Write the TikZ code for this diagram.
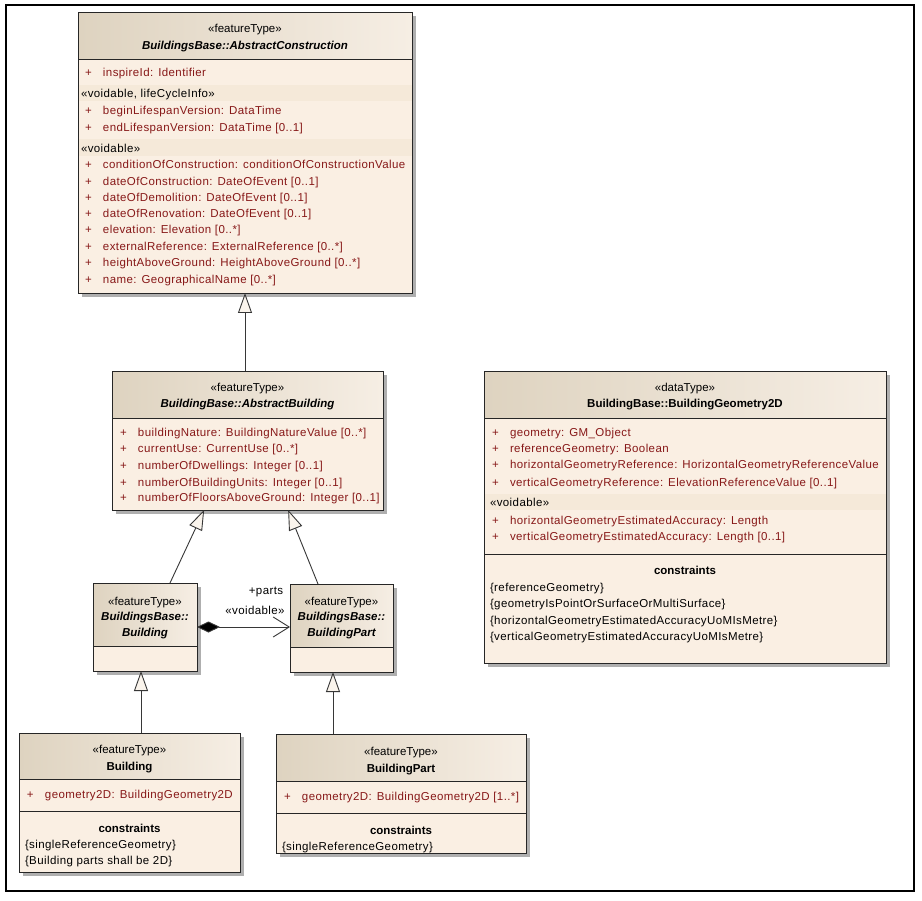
\documentclass[tikz,border=0pt]{standalone}
\usepackage{fontspec}
\setmainfont{Liberation Sans}
\newfontfamily\trackfont[LetterSpace=3.5]{Liberation Sans}
\usetikzlibrary{arrows.meta,shadows,calc}
\definecolor{attrc}{RGB}{135,24,24}
\definecolor{bodyc}{RGB}{250,239,227}
\definecolor{hdrA}{RGB}{222,211,192}
\definecolor{hdrB}{RGB}{246,238,228}
\definecolor{bandc}{RGB}{245,233,217}
\definecolor{shadc}{RGB}{175,175,175}
\definecolor{linec}{RGB}{55,55,55}
\definecolor{trifill}{RGB}{250,244,236}
\newcommand{\attsep}{:\hspace{5pt}}
\newcommand{\umlclass}[6]{%
  \node[classbox, minimum width=#4pt-#2pt, minimum height=#5pt-#3pt] (#1) at (#2,#3) {};
  \shade[left color=hdrA, right color=hdrB] (#2+0.4,#3+0.4) rectangle (#4-0.4,#6);
  \draw[boxline] (#2,#3) rectangle (#4,#5);
  \draw[boxline] (#2,#6) -- (#4,#6);
}
\newcommand{\attr}[4]{\node[attrtext] (#1) at (#2,#3+1) {\makebox[18pt][l]{+}#4};}
\tikzset{
  every node/.style={font=\fontsize{11.5}{13}\selectfont, inner sep=0pt, outer sep=0pt},
  classbox/.style={fill=bodyc, anchor=north west,
    drop shadow={shadow xshift=4pt, shadow yshift=-4pt, fill=shadc, opacity=1}},
  boxline/.style={draw=black!85, line width=0.9pt},
  stereo/.style={anchor=base},
  absname/.style={anchor=base, font=\fontsize{11.5}{13}\selectfont\bfseries\itshape},
  conname/.style={anchor=base, font=\fontsize{11.5}{13}\selectfont\bfseries},
  attrtext/.style={anchor=base west, text=attrc, font=\fontsize{11.5}{13}\trackfont},
  bandtext/.style={anchor=base west, font=\fontsize{11.5}{13}\trackfont},
  plain/.style={anchor=base west, font=\fontsize{11.5}{13}\trackfont},
  lbl/.style={font=\fontsize{11.5}{13}\trackfont},
  gen/.style={draw=linec, line width=0.9pt, -{Triangle[length=20pt, width=14pt, fill=trifill]}},
  comp/.style={draw=linec, line width=0.9pt, {Diamond[length=23pt, width=11pt, fill=black]}-{Straight Barb[length=16pt, width=20pt, line width=0.9pt]}},
}
\begin{document}
\begin{tikzpicture}[x=1pt, y=-1pt]
\useasboundingbox (0,0) rectangle (922,901);
\fill[white] (0,0) rectangle (922,901);
\draw[black, line width=1.3pt] (6,5) rectangle (914,891);

% ---------- AbstractConstruction
\umlclass{ac}{78}{12}{412}{293}{59}
\fill[bandc] (78.5,85) rectangle (411.5,101);
\fill[bandc] (78.5,139) rectangle (411.5,156);
\node[stereo] (ac-st) at (245,33) {«featureType»};
\node[absname] (ac-nm) at (245,50) {BuildingsBase::AbstractConstruction};
\attr{ac-a1}{85}{76}{inspireId\attsep Identifier}
\node[bandtext] (ac-b1) at (81,98) {«voidable, lifeCycleInfo»};
\attr{ac-a2}{85}{114}{beginLifespanVersion\attsep DataTime}
\attr{ac-a3}{85}{131}{endLifespanVersion\attsep DataTime [0..1]}
\node[bandtext] (ac-b2) at (81,153) {«voidable»};
\attr{ac-a4}{85}{168}{conditionOfConstruction\attsep conditionOfConstructionValue}
\attr{ac-a5}{85}{185}{dateOfConstruction\attsep DateOfEvent [0..1]}
\attr{ac-a6}{85}{201}{dateOfDemolition\attsep DateOfEvent [0..1]}
\attr{ac-a7}{85}{217}{dateOfRenovation\attsep DateOfEvent [0..1]}
\attr{ac-a8}{85}{233}{elevation\attsep Elevation [0..*]}
\attr{ac-a9}{85}{250}{externalReference\attsep ExternalReference [0..*]}
\attr{ac-a10}{85}{266}{heightAboveGround\attsep HeightAboveGround [0..*]}
\attr{ac-a11}{85}{283}{name\attsep GeographicalName [0..*]}

% ---------- AbstractBuilding
\umlclass{ab}{112}{371}{383}{510}{418}
\node[stereo] (ab-st) at (247.5,392) {«featureType»};
\node[absname] (ab-nm) at (247.5,408) {BuildingBase::AbstractBuilding};
\attr{ab-a1}{120}{436}{buildingNature\attsep BuildingNatureValue [0..*]}
\attr{ab-a2}{120}{452}{currentUse\attsep CurrentUse [0..*]}
\attr{ab-a3}{120}{469}{numberOfDwellings\attsep Integer [0..1]}
\attr{ab-a4}{120}{485}{numberOfBuildingUnits\attsep Integer [0..1]}
\attr{ab-a5}{120}{501}{numberOfFloorsAboveGround\attsep Integer [0..1]}

% ---------- BuildingGeometry2D
\umlclass{bg}{484}{371}{886}{663}{418}
\fill[bandc] (484.5,494) rectangle (885.5,510);
\draw[boxline] (484,554) -- (886,554);
\node[stereo] (bg-st) at (685,392) {«dataType»};
\node[conname] (bg-nm) at (685,408) {BuildingBase::BuildingGeometry2D};
\attr{bg-a1}{492}{436}{geometry\attsep GM\_Object}
\attr{bg-a2}{492}{452}{referenceGeometry\attsep Boolean}
\attr{bg-a3}{492}{468}{horizontalGeometryReference\attsep HorizontalGeometryReferenceValue}
\attr{bg-a4}{492}{485}{verticalGeometryReference\attsep ElevationReferenceValue [0..1]}
\node[bandtext] (bg-b1) at (490,507) {«voidable»};
\attr{bg-a5}{492}{523}{horizontalGeometryEstimatedAccuracy\attsep Length}
\attr{bg-a6}{492}{539}{verticalGeometryEstimatedAccuracy\attsep Length [0..1]}
\node[conname] (bg-ct) at (685,574) {constraints};
\node[plain] (bg-c1) at (490,591) {\{referenceGeometry\}};
\node[plain] (bg-c2) at (490,607) {\{geometryIsPointOrSurfaceOrMultiSurface\}};
\node[plain] (bg-c3) at (490,624) {\{horizontalGeometryEstimatedAccuracyUoMIsMetre\}};
\node[plain] (bg-c4) at (490,640) {\{verticalGeometryEstimatedAccuracyUoMIsMetre\}};

% ---------- BuildingsBase::Building (abstract)
\umlclass{bb}{93}{583}{197}{671}{646}
\node[stereo] (bb-st) at (145,605) {«featureType»};
\node[absname] (bb-n1) at (145,620) {BuildingsBase::};
\node[absname] (bb-n2) at (145,636) {Building};

% ---------- BuildingsBase::BuildingPart (abstract)
\umlclass{bbp}{290}{584}{393}{672}{647}
\node[stereo] (bbp-st) at (341.5,605) {«featureType»};
\node[absname] (bbp-n1) at (341.5,620) {BuildingsBase::};
\node[absname] (bbp-n2) at (341.5,636) {BuildingPart};

% ---------- Building
\umlclass{b}{19}{733}{240}{872}{779}
\draw[boxline] (19,811) -- (240,811);
\node[stereo] (b-st) at (129.5,753) {«featureType»};
\node[conname] (b-nm) at (129.5,770) {Building};
\attr{b-a1}{27}{797}{geometry2D\attsep BuildingGeometry2D}
\node[conname] (b-ct) at (129.5,832) {constraints};
\node[plain] (b-c1) at (25,848) {\{singleReferenceGeometry\}};
\node[plain] (b-c2) at (25,864) {\{Building parts shall be 2D\}};

% ---------- BuildingPart
\umlclass{bp}{276}{734}{526}{853}{781}
\draw[boxline] (276,813) -- (526,813);
\node[stereo] (bp-st) at (401,755) {«featureType»};
\node[conname] (bp-nm) at (401,772) {BuildingPart};
\attr{bp-a1}{284}{799}{geometry2D\attsep BuildingGeometry2D [1..*]}
\node[conname] (bp-ct) at (401,834) {constraints};
\node[plain] (bp-c1) at (282,850) {\{singleReferenceGeometry\}};

% ---------- connectors
\draw[gen] (ab.north -| ac.south) -- (ac.south);
\coordinate (t1) at ($(ab.south west)!0.34!(ab.south east)$);
\coordinate (t2) at ($(ab.south west)!0.65!(ab.south east)$);
\draw[gen] ($(bb.north)+(25,0)$) -- (t1);
\draw[gen] ($(bbp.north)+(-23.5,0)$) -- (t2);
\coordinate (g3) at ($(bb.south)+(-4,0)$);
\draw[gen] (g3 |- b.north) -- (g3);
\coordinate (g4) at ($(bbp.south)+(-8.5,0)$);
\draw[gen] (g4 |- bp.north) -- (g4);
\draw[comp] (bb.east) -- (bb.east -| bbp.west);
\node[lbl] (lparts) at (266,592) {+parts};
\node[lbl] (lvoid) at (255,610) {«voidable»};
\end{tikzpicture}
\end{document}
